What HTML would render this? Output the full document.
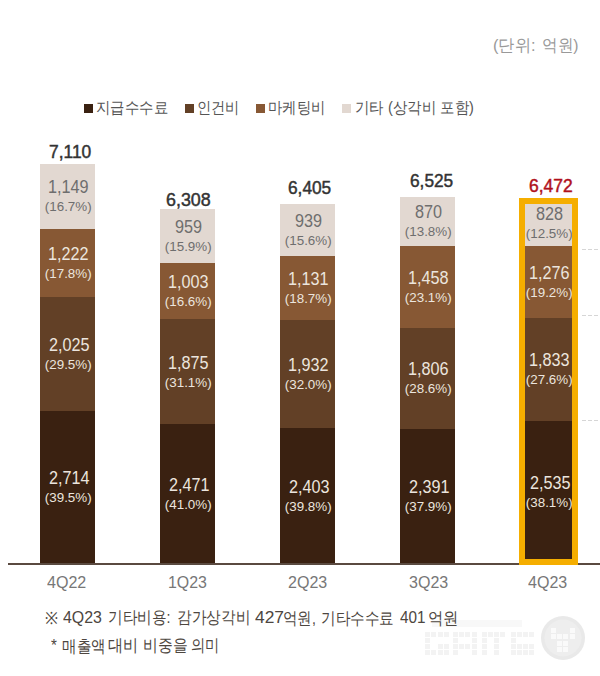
<!DOCTYPE html>
<html><head><meta charset="utf-8"><style>
html,body{margin:0;padding:0;background:#fff;}
body{width:600px;height:676px;position:relative;overflow:hidden;font-family:"Liberation Sans",sans-serif;}
.seg{position:absolute;}
.fit,.cv,.cp{position:absolute;white-space:nowrap;transform-origin:0 0;line-height:1;}
.cv{font-size:18px;}
.cp{font-size:13.4px;}
.dk{color:#ece5de;}
.lt{color:#6e6e6e;}
.tot{font-size:17.5px;-webkit-text-stroke:0.45px currentColor;color:#333;}
.tot.red{color:#b0101c;}
.cat{font-size:16px;color:#777;}
.axis{position:absolute;left:8px;top:563px;width:592px;height:2px;background:#5a4a40;}
.box{position:absolute;left:519px;top:198px;width:47px;height:355px;border:6px solid #f5ae00;}
.dash{position:absolute;left:582px;width:18px;height:1px;background:repeating-linear-gradient(90deg,#d6d6d6 0 4px,transparent 4px 6px);}
.unit{font-size:17px;color:#999;}
.sq{position:absolute;top:104px;width:9px;height:9px;}
.lg{font-size:16px;color:#555;}
.note{font-size:18px;color:#4d4640;}
.wm{position:absolute;left:420px;top:612px;}
</style></head><body>
<svg class="wm" width="180" height="64" viewBox="0 0 180 64"><g fill="#f3f3f3"><rect x="5" y="20" width="5" height="5"></rect><rect x="11" y="20" width="5" height="5"></rect><rect x="18" y="20" width="5" height="5"></rect><rect x="24" y="20" width="5" height="5"></rect><rect x="5" y="26" width="5" height="5"></rect><rect x="5" y="32" width="5" height="5"></rect><rect x="18" y="32" width="5" height="5"></rect><rect x="24" y="32" width="5" height="5"></rect><rect x="5" y="38" width="5" height="5"></rect><rect x="11" y="38" width="5" height="5"></rect><rect x="18" y="38" width="5" height="5"></rect><rect x="24" y="38" width="5" height="5"></rect><rect x="33" y="20" width="5" height="5"></rect><rect x="39" y="20" width="5" height="5"></rect><rect x="45" y="20" width="5" height="5"></rect><rect x="52" y="20" width="5" height="5"></rect><rect x="33" y="26" width="5" height="5"></rect><rect x="52" y="26" width="5" height="5"></rect><rect x="33" y="32" width="5" height="5"></rect><rect x="39" y="32" width="5" height="5"></rect><rect x="45" y="32" width="5" height="5"></rect><rect x="52" y="32" width="5" height="5"></rect><rect x="33" y="38" width="5" height="5"></rect><rect x="52" y="38" width="5" height="5"></rect><rect x="62" y="20" width="5" height="5"></rect><rect x="68" y="20" width="5" height="5"></rect><rect x="74" y="20" width="5" height="5"></rect><rect x="80" y="20" width="5" height="5"></rect><rect x="62" y="26" width="5" height="5"></rect><rect x="74" y="26" width="5" height="5"></rect><rect x="62" y="32" width="5" height="5"></rect><rect x="74" y="32" width="5" height="5"></rect><rect x="62" y="38" width="5" height="5"></rect><rect x="74" y="38" width="5" height="5"></rect><rect x="91" y="20" width="5" height="5"></rect><rect x="97" y="20" width="5" height="5"></rect><rect x="103" y="20" width="5" height="5"></rect><rect x="109" y="20" width="5" height="5"></rect><rect x="91" y="26" width="5" height="5"></rect><rect x="91" y="32" width="5" height="5"></rect><rect x="97" y="32" width="5" height="5"></rect><rect x="103" y="32" width="5" height="5"></rect><rect x="109" y="32" width="5" height="5"></rect><rect x="91" y="38" width="5" height="5"></rect><rect x="97" y="38" width="5" height="5"></rect><rect x="103" y="38" width="5" height="5"></rect><rect x="109" y="38" width="5" height="5"></rect></g><rect x="12" y="8" width="90" height="7" fill="#f8f8f8"></rect><circle cx="143" cy="26" r="22" fill="#e9e9e9"></circle><circle cx="143" cy="26" r="18.5" fill="#eeeeee"></circle><g fill="#fafafa"><rect x="131" y="16" width="5" height="5"></rect><rect x="150" y="16" width="5" height="5"></rect><rect x="131" y="22" width="5" height="5"></rect><rect x="137" y="22" width="5" height="5"></rect><rect x="143" y="22" width="5" height="5"></rect><rect x="150" y="22" width="5" height="5"></rect><rect x="137" y="29" width="5" height="5"></rect><rect x="143" y="29" width="5" height="5"></rect><rect x="137" y="35" width="5" height="5"></rect><rect x="143" y="35" width="5" height="5"></rect></g></svg>
<div class="sq" style="left:84px;background:#3a2111"></div>
<div class="sq" style="left:185px;background:#624026"></div>
<div class="sq" style="left:256px;background:#875834"></div>
<div class="sq" style="left:342px;background:#e2d8d1"></div>
<div class="seg" style="left:40px;top:410.74px;width:55px;height:152.26px;background:#3a2111"></div>
<div class="cv dk" style="left: 48.74px; top: 468.87px; transform: scaleX(0.9);">2,714</div>
<div class="cp dk" style="left: 44.79px; top: 490.87px;">(39.5%)</div>
<div class="seg" style="left:40px;top:297.14px;width:55px;height:113.60px;background:#624026"></div>
<div class="cv dk" style="left: 48.74px; top: 335.94px; transform: scaleX(0.9);">2,025</div>
<div class="cp dk" style="left: 44.79px; top: 357.94px;">(29.5%)</div>
<div class="seg" style="left:40px;top:228.59px;width:55px;height:68.55px;background:#875834"></div>
<div class="cv dk" style="left: 48.29px; top: 244.87px; transform: scaleX(0.9);">1,222</div>
<div class="cp dk" style="left: 44.79px; top: 266.87px;">(17.8%)</div>
<div class="seg" style="left:40px;top:164.13px;width:55px;height:64.46px;background:#e2d8d1"></div>
<div class="cv lt" style="left: 48.29px; top: 178.36px; transform: scaleX(0.9);">1,149</div>
<div class="cp lt" style="left: 44.79px; top: 200.36px;">(16.7%)</div>
<div class="fit tot" style="left: 48.5px; top: 143.5px; transform: scaleX(0.9939);">7,110</div>
<div class="seg" style="left:160px;top:424.38px;width:55px;height:138.62px;background:#3a2111"></div>
<div class="cv dk" style="left: 168.74px; top: 475.69px; transform: scaleX(0.9);">2,471</div>
<div class="cp dk" style="left: 164.79px; top: 497.69px;">(41.0%)</div>
<div class="seg" style="left:160px;top:319.19px;width:55px;height:105.19px;background:#624026"></div>
<div class="cv dk" style="left: 168.29px; top: 353.78px; transform: scaleX(0.9);">1,875</div>
<div class="cp dk" style="left: 164.79px; top: 375.78px;">(31.1%)</div>
<div class="seg" style="left:160px;top:262.92px;width:55px;height:56.27px;background:#875834"></div>
<div class="cv dk" style="left: 168.29px; top: 273.06px; transform: scaleX(0.9);">1,003</div>
<div class="cp dk" style="left: 164.79px; top: 295.06px;">(16.6%)</div>
<div class="seg" style="left:160px;top:209.12px;width:55px;height:53.80px;background:#e2d8d1"></div>
<div class="cv lt" style="left: 175.49px; top: 218.02px; transform: scaleX(0.9);">959</div>
<div class="cp lt" style="left: 164.79px; top: 240.02px;">(15.9%)</div>
<div class="fit tot" style="left: 165.5px; top: 191.5px; transform: scaleX(1.0218);">6,308</div>
<div class="seg" style="left:280px;top:428.19px;width:55px;height:134.81px;background:#3a2111"></div>
<div class="cv dk" style="left: 288.74px; top: 477.6px; transform: scaleX(0.9);">2,403</div>
<div class="cp dk" style="left: 284.79px; top: 499.6px;">(39.8%)</div>
<div class="seg" style="left:280px;top:319.81px;width:55px;height:108.39px;background:#624026"></div>
<div class="cv dk" style="left: 288.29px; top: 356px; transform: scaleX(0.9);">1,932</div>
<div class="cp dk" style="left: 284.79px; top: 378px;">(32.0%)</div>
<div class="seg" style="left:280px;top:256.36px;width:55px;height:63.45px;background:#875834"></div>
<div class="cv dk" style="left: 288.29px; top: 270.08px; transform: scaleX(0.9);">1,131</div>
<div class="cp dk" style="left: 284.79px; top: 292.08px;">(18.7%)</div>
<div class="seg" style="left:280px;top:203.68px;width:55px;height:52.68px;background:#e2d8d1"></div>
<div class="cv lt" style="left: 295.49px; top: 212.02px; transform: scaleX(0.9);">939</div>
<div class="cp lt" style="left: 284.79px; top: 234.02px;">(15.6%)</div>
<div class="fit tot" style="left: 288px; top: 180px; transform: scaleX(0.987);">6,405</div>
<div class="seg" style="left:400px;top:428.86px;width:55px;height:134.14px;background:#3a2111"></div>
<div class="cv dk" style="left: 408.74px; top: 477.93px; transform: scaleX(0.9);">2,391</div>
<div class="cp dk" style="left: 404.79px; top: 499.93px;">(37.9%)</div>
<div class="seg" style="left:400px;top:327.55px;width:55px;height:101.32px;background:#624026"></div>
<div class="cv dk" style="left: 408.29px; top: 360.21px; transform: scaleX(0.9);">1,806</div>
<div class="cp dk" style="left: 404.79px; top: 382.21px;">(28.6%)</div>
<div class="seg" style="left:400px;top:245.75px;width:55px;height:81.79px;background:#875834"></div>
<div class="cv dk" style="left: 408.29px; top: 268.65px; transform: scaleX(0.9);">1,458</div>
<div class="cp dk" style="left: 404.79px; top: 290.65px;">(23.1%)</div>
<div class="seg" style="left:400px;top:196.95px;width:55px;height:48.81px;background:#e2d8d1"></div>
<div class="cv lt" style="left: 415.49px; top: 203.35px; transform: scaleX(0.9);">870</div>
<div class="cp lt" style="left: 404.79px; top: 225.35px;">(13.8%)</div>
<div class="fit tot" style="left: 410px; top: 173px; transform: scaleX(0.987);">6,525</div>
<div class="seg" style="left:521px;top:420.79px;width:55px;height:142.21px;background:#3a2111"></div>
<div class="cv dk" style="left: 529.74px; top: 473.89px; transform: scaleX(0.9);">2,535</div>
<div class="cp dk" style="left: 525.79px; top: 495.89px;">(38.1%)</div>
<div class="seg" style="left:521px;top:317.96px;width:55px;height:102.83px;background:#624026"></div>
<div class="cv dk" style="left: 529.29px; top: 351.37px; transform: scaleX(0.9);">1,833</div>
<div class="cp dk" style="left: 525.79px; top: 373.37px;">(27.6%)</div>
<div class="seg" style="left:521px;top:246.37px;width:55px;height:71.58px;background:#875834"></div>
<div class="cv dk" style="left: 529.29px; top: 264.16px; transform: scaleX(0.9);">1,276</div>
<div class="cp dk" style="left: 525.79px; top: 286.16px;">(19.2%)</div>
<div class="seg" style="left:521px;top:199.92px;width:55px;height:46.45px;background:#e2d8d1"></div>
<div class="cv lt" style="left: 536.49px; top: 205.15px; transform: scaleX(0.9);">828</div>
<div class="cp lt" style="left: 525.79px; top: 227.15px;">(12.5%)</div>
<div class="fit tot red" style="left: 529px; top: 177.5px; transform: scaleX(0.9986);">6,472</div>
<div class="fit cat" style="left: 47.3px; top: 575px; transform: scaleX(1.004);">4Q22</div>
<div class="fit cat" style="left: 168.31px; top: 575px; transform: scaleX(0.9937);">1Q23</div>
<div class="fit cat" style="left: 288px; top: 575px; transform: scaleX(1.0015);">2Q23</div>
<div class="fit cat" style="left: 408.7px; top: 575px; transform: scaleX(1.0015);">3Q23</div>
<div class="fit cat" style="left: 528px; top: 575px; transform: scaleX(1.0015);">4Q23</div>
<div class="fit lg" style="left: 96px; top: 99.8px; transform: scaleX(0.8987);">지급수수료</div>
<div class="fit lg" style="left: 197.11px; top: 99.8px; transform: scaleX(0.8889);">인건비</div>
<div class="fit lg" style="left: 268.1px; top: 99.8px; transform: scaleX(0.8975);">마케팅비</div>
<div class="fit lg" style="left: 354.5px; top: 99.8px; transform: scaleX(0.9031);">기타 (상각비 포함)</div>
<div class="fit unit" style="left: 492.84px; top: 37.3px; transform: scaleX(0.9564);">(단위:</div>
<div class="fit unit" style="left: 542.38px; top: 37px; transform: scaleX(0.9184);">억원)</div>
<div class="fit note" style="font-size: 17px; left: 44.7px; top: 610.4px; transform: scaleX(0.9143);">※</div>
<div class="fit note" style="font-size: 17px; left: 63.3px; top: 609.4px; transform: scaleX(0.936);">4Q23</div>
<div class="fit note" style="font-size: 16.5px; left: 108.24px; top: 609.3px; transform: scaleX(0.862);">기타비용:</div>
<div class="fit note" style="font-size: 16.5px; left: 176.84px; top: 609.3px; transform: scaleX(0.861);">감가상각비</div>
<div class="fit note" style="font-size: 17px; left: 254.7px; top: 609.4px; transform: scaleX(1.023);">427</div>
<div class="fit note" style="font-size: 16.5px; left: 282.95px; top: 609.5px; transform: scaleX(0.8514);">억원,</div>
<div class="fit note" style="font-size: 16.5px; left: 320.84px; top: 610px; transform: scaleX(0.859);">기타수수료</div>
<div class="fit note" style="font-size: 17px; left: 399.9px; top: 609.4px; transform: scaleX(0.8993);">401</div>
<div class="fit note" style="font-size: 16.5px; left: 428.1px; top: 609.8px; transform: scaleX(0.9032);">억원</div>
<div class="fit note" style="font-size: 16.5px; left: 50.5px; top: 637.1px; transform: scaleX(0.9143);">*</div>
<div class="fit note" style="font-size: 16.5px; left: 61.54px; top: 638px; transform: scaleX(0.8583);">매출액</div>
<div class="fit note" style="font-size: 16.5px; left: 108.3px; top: 637px; transform: scaleX(0.8906);">대비</div>
<div class="fit note" style="font-size: 16.5px; left: 142.83px; top: 637px; transform: scaleX(0.8735);">비중을</div>
<div class="fit note" style="font-size: 16.5px; left: 191.16px; top: 637px; transform: scaleX(0.8419);">의미</div>
<div class="axis"></div>
<div class="box"></div>
<div class="dash" style="top:249px"></div>
<div class="dash" style="top:315px"></div>
<div class="dash" style="top:420px"></div>

</body></html>
